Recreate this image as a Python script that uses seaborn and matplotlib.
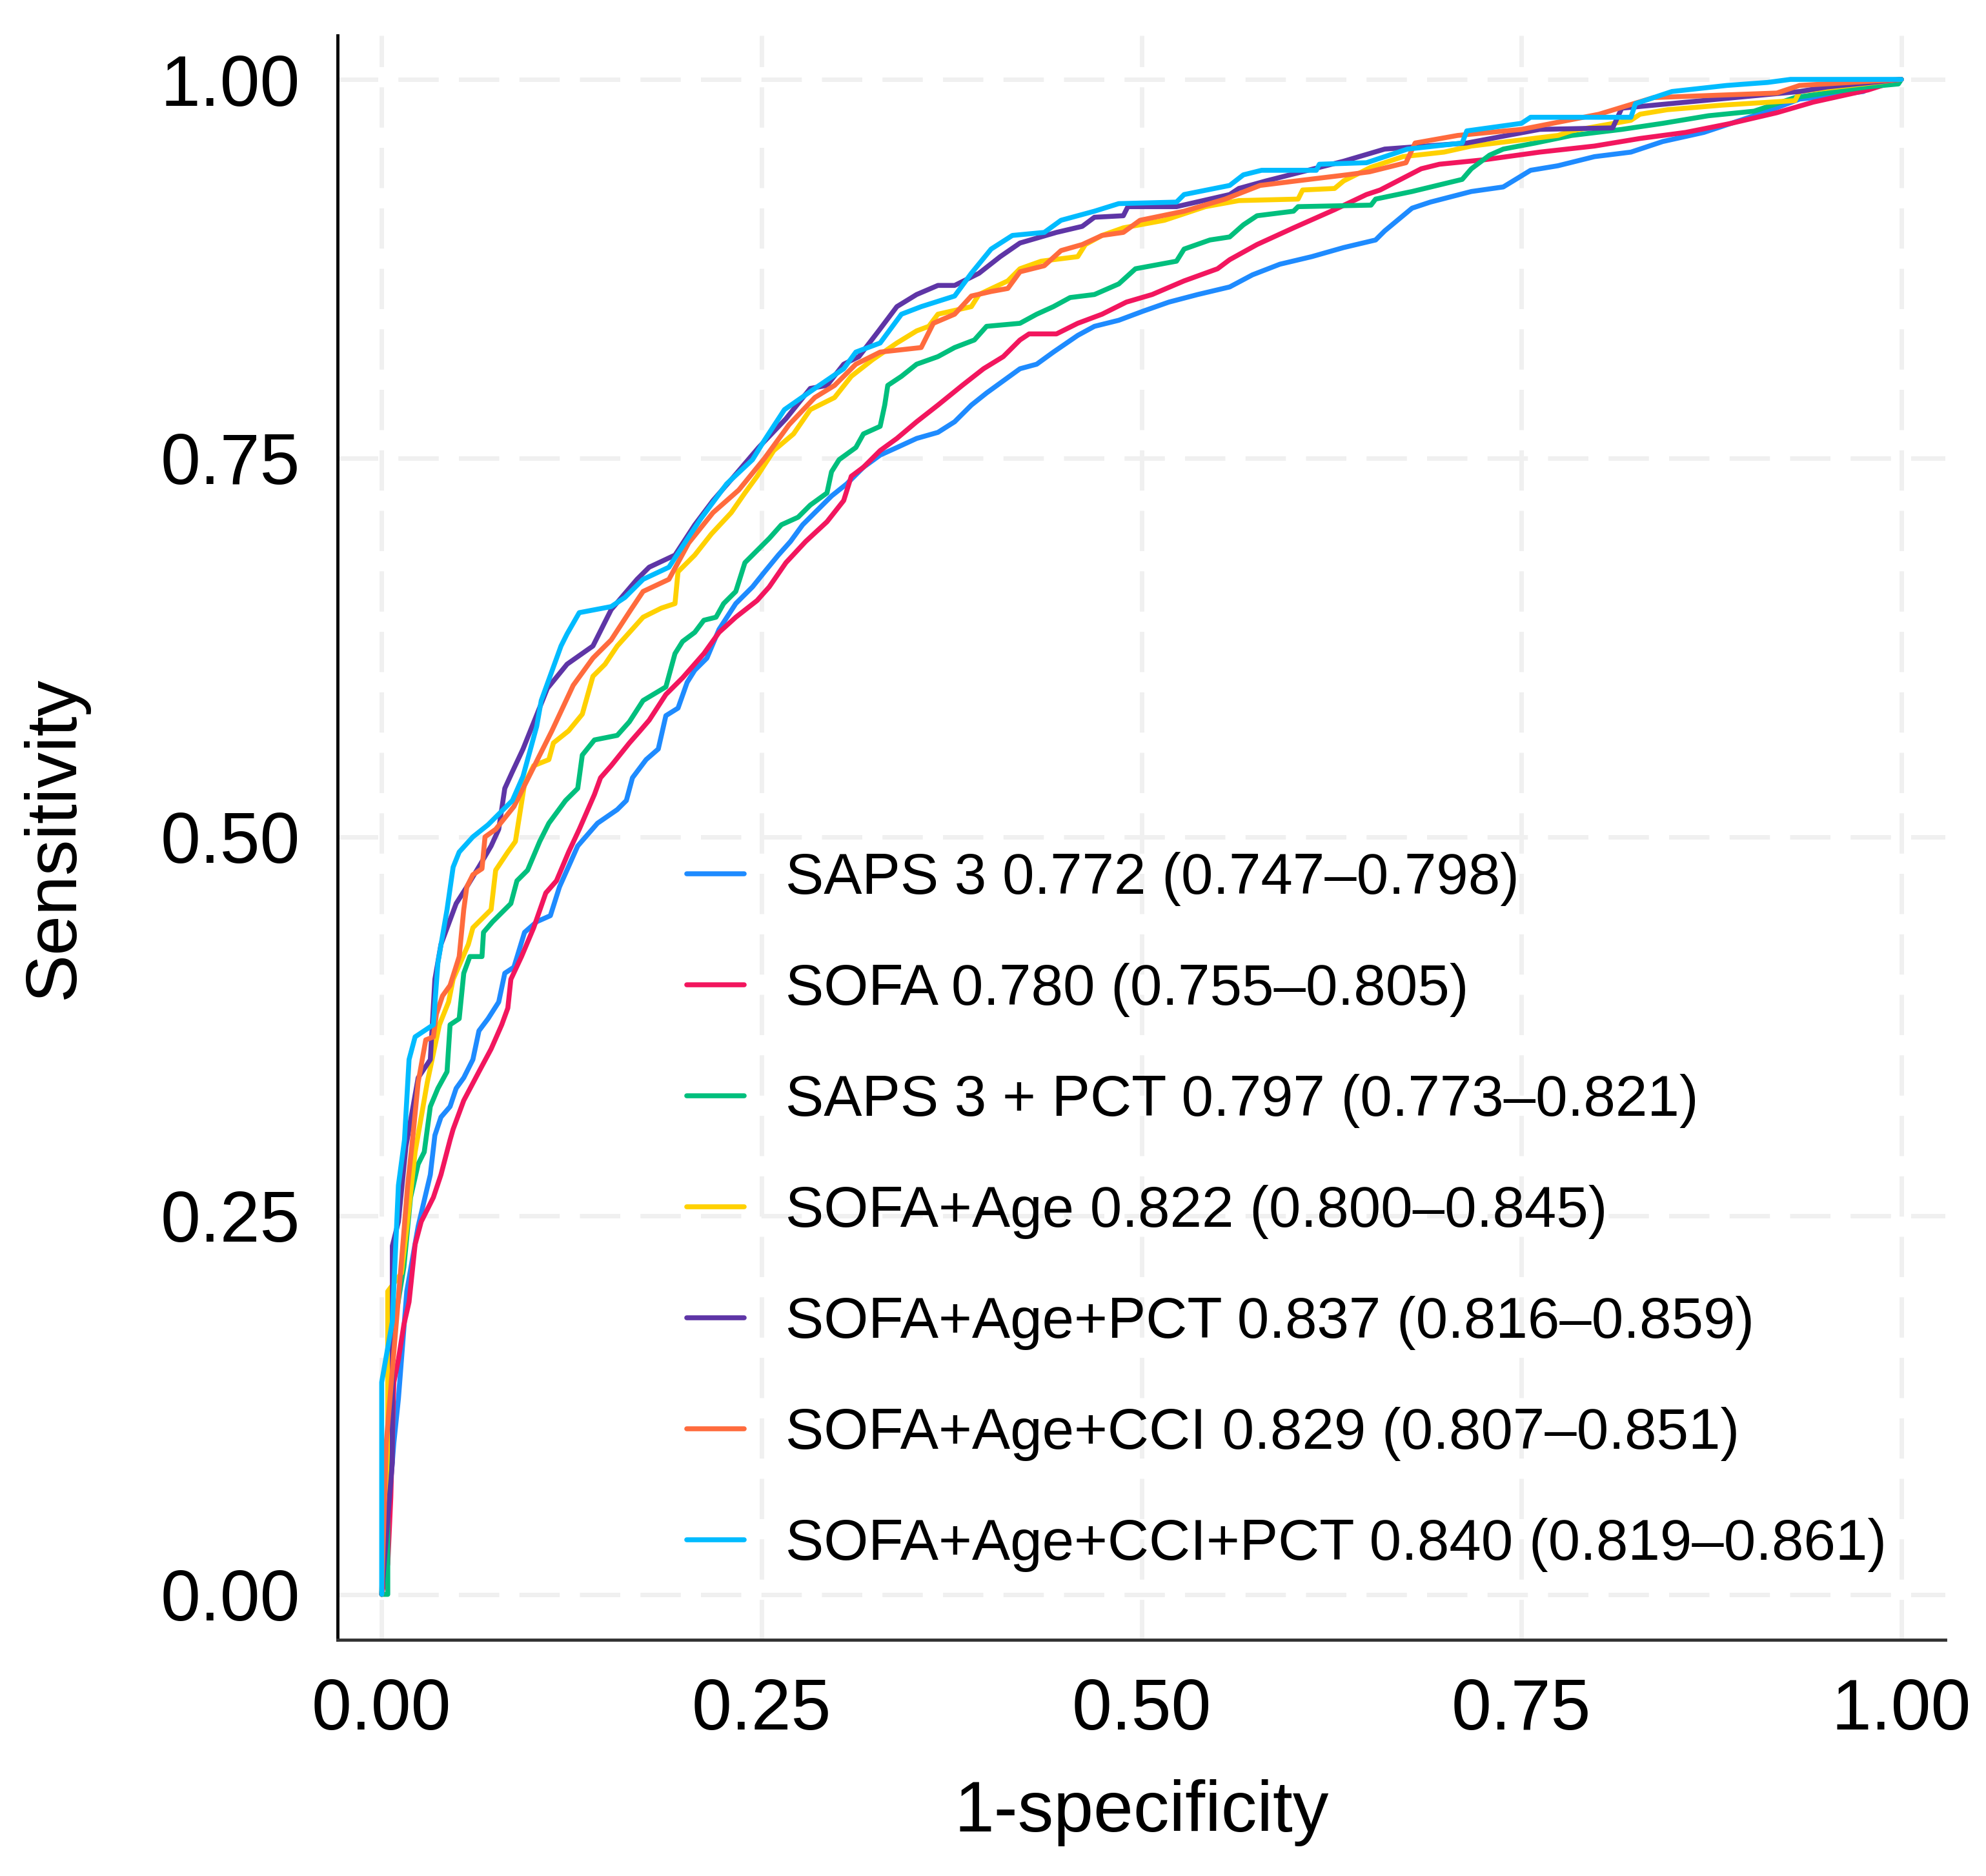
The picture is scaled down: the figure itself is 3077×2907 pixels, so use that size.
import pandas as pd
import matplotlib.pyplot as plt
import seaborn as sns

# ROC curves (1-specificity, sensitivity)
saps3_fpr = [0, 0.004, 0.008, 0.011, 0.0165, 0.024, 0.032, 0.035, 0.039, 0.045, 0.049, 0.054, 0.06, 0.064, 0.07, 0.077, 0.081, 0.087, 0.094, 0.102, 0.111, 0.117, 0.129, 0.142, 0.155, 0.161, 0.165, 0.174, 0.182, 0.187, 0.195, 0.201, 0.206, 0.214, 0.222, 0.233, 0.244, 0.252, 0.261, 0.269, 0.277, 0.285, 0.296, 0.306, 0.317, 0.328, 0.339, 0.352, 0.366, 0.377, 0.388, 0.398, 0.409, 0.42, 0.431, 0.442, 0.458, 0.469, 0.485, 0.501, 0.518, 0.537, 0.558, 0.573, 0.591, 0.612, 0.633, 0.654, 0.66, 0.678, 0.69, 0.717, 0.738, 0.756, 0.774, 0.798, 0.822, 0.843, 0.87, 0.894, 0.912, 0.933, 0.952, 0.975, 0.985, 1.0]
saps3_tpr = [0, 0.05, 0.1, 0.129, 0.2, 0.243, 0.277, 0.303, 0.315, 0.322, 0.334, 0.341, 0.353, 0.372, 0.38, 0.391, 0.41, 0.414, 0.437, 0.444, 0.448, 0.467, 0.494, 0.509, 0.518, 0.524, 0.539, 0.551, 0.558, 0.58, 0.585, 0.602, 0.61, 0.618, 0.637, 0.654, 0.665, 0.675, 0.686, 0.695, 0.706, 0.714, 0.725, 0.733, 0.744, 0.752, 0.757, 0.763, 0.767, 0.774, 0.785, 0.793, 0.801, 0.809, 0.812, 0.82, 0.831, 0.837, 0.841, 0.847, 0.853, 0.858, 0.863, 0.871, 0.878, 0.883, 0.889, 0.894, 0.9, 0.915, 0.919, 0.926, 0.929, 0.94, 0.943, 0.949, 0.952, 0.959, 0.965, 0.973, 0.979, 0.987, 0.989, 0.992, 0.998, 1.0]

sofa_fpr = [0, 0.004, 0.006, 0.008, 0.011, 0.0146, 0.018, 0.022, 0.026, 0.034, 0.039, 0.045, 0.047, 0.054, 0.064, 0.072, 0.079, 0.083, 0.085, 0.092, 0.1, 0.108, 0.115, 0.123, 0.13, 0.14, 0.144, 0.151, 0.163, 0.17, 0.176, 0.187, 0.198, 0.212, 0.222, 0.233, 0.247, 0.255, 0.266, 0.279, 0.293, 0.304, 0.309, 0.317, 0.328, 0.339, 0.352, 0.366, 0.382, 0.396, 0.409, 0.42, 0.426, 0.444, 0.458, 0.474, 0.49, 0.507, 0.528, 0.55, 0.558, 0.576, 0.6, 0.627, 0.648, 0.657, 0.684, 0.696, 0.726, 0.762, 0.798, 0.828, 0.858, 0.888, 0.918, 0.942, 0.96, 0.978, 1.0]
sofa_tpr = [0, 0.02, 0.064, 0.14, 0.155, 0.178, 0.193, 0.231, 0.246, 0.262, 0.277, 0.3, 0.307, 0.326, 0.345, 0.36, 0.376, 0.387, 0.406, 0.421, 0.44, 0.463, 0.471, 0.49, 0.505, 0.528, 0.539, 0.547, 0.562, 0.57, 0.577, 0.594, 0.605, 0.621, 0.635, 0.645, 0.656, 0.665, 0.681, 0.695, 0.708, 0.722, 0.738, 0.744, 0.755, 0.763, 0.774, 0.785, 0.798, 0.809, 0.817, 0.828, 0.832, 0.832, 0.839, 0.845, 0.853, 0.858, 0.867, 0.875, 0.881, 0.891, 0.902, 0.914, 0.924, 0.927, 0.941, 0.944, 0.947, 0.952, 0.956, 0.961, 0.965, 0.971, 0.978, 0.985, 0.989, 0.993, 1.0]

saps3_pct_fpr = [0, 0.004, 0.004, 0.007, 0.0146, 0.019, 0.024, 0.028, 0.032, 0.037, 0.043, 0.045, 0.051, 0.054, 0.058, 0.066, 0.067, 0.073, 0.085, 0.089, 0.096, 0.104, 0.11, 0.121, 0.129, 0.132, 0.14, 0.155, 0.163, 0.172, 0.187, 0.193, 0.198, 0.206, 0.212, 0.22, 0.225, 0.233, 0.239, 0.247, 0.255, 0.263, 0.274, 0.282, 0.293, 0.296, 0.301, 0.312, 0.317, 0.328, 0.331, 0.333, 0.342, 0.352, 0.366, 0.377, 0.39, 0.398, 0.42, 0.431, 0.442, 0.453, 0.469, 0.485, 0.496, 0.523, 0.528, 0.545, 0.558, 0.567, 0.576, 0.6, 0.603, 0.651, 0.654, 0.678, 0.711, 0.717, 0.729, 0.738, 0.759, 0.783, 0.816, 0.843, 0.873, 0.903, 0.93, 0.977, 0.998, 1.0]
saps3_pct_tpr = [0, 0.0, 0.163, 0.17, 0.216, 0.262, 0.284, 0.292, 0.322, 0.334, 0.345, 0.376, 0.38, 0.41, 0.421, 0.421, 0.437, 0.444, 0.456, 0.471, 0.478, 0.497, 0.509, 0.524, 0.532, 0.554, 0.564, 0.567, 0.576, 0.59, 0.599, 0.621, 0.629, 0.635, 0.643, 0.645, 0.654, 0.662, 0.681, 0.689, 0.697, 0.706, 0.711, 0.719, 0.727, 0.741, 0.749, 0.757, 0.766, 0.771, 0.785, 0.798, 0.804, 0.812, 0.817, 0.823, 0.828, 0.837, 0.839, 0.845, 0.85, 0.856, 0.858, 0.865, 0.875, 0.88, 0.888, 0.894, 0.896, 0.904, 0.91, 0.913, 0.916, 0.917, 0.921, 0.926, 0.934, 0.941, 0.95, 0.954, 0.958, 0.963, 0.967, 0.971, 0.976, 0.979, 0.988, 0.995, 0.997, 1.0]

sofa_age_fpr = [0, 0.004, 0.004, 0.013, 0.017, 0.022, 0.026, 0.03, 0.034, 0.038, 0.044, 0.047, 0.057, 0.06, 0.072, 0.075, 0.083, 0.088, 0.091, 0.094, 0.1, 0.11, 0.113, 0.123, 0.132, 0.139, 0.147, 0.155, 0.172, 0.184, 0.193, 0.195, 0.206, 0.217, 0.23, 0.239, 0.247, 0.258, 0.271, 0.282, 0.298, 0.309, 0.323, 0.339, 0.352, 0.36, 0.366, 0.388, 0.393, 0.412, 0.42, 0.434, 0.458, 0.463, 0.474, 0.488, 0.515, 0.542, 0.564, 0.603, 0.606, 0.627, 0.633, 0.651, 0.672, 0.699, 0.717, 0.774, 0.783, 0.822, 0.828, 0.846, 0.882, 0.93, 0.933, 0.975, 1.0]
sofa_age_tpr = [0, 0.1, 0.2, 0.212, 0.246, 0.292, 0.315, 0.338, 0.357, 0.376, 0.391, 0.406, 0.429, 0.44, 0.452, 0.478, 0.49, 0.497, 0.516, 0.535, 0.547, 0.551, 0.562, 0.57, 0.581, 0.606, 0.614, 0.626, 0.645, 0.651, 0.654, 0.675, 0.686, 0.7, 0.714, 0.727, 0.738, 0.755, 0.766, 0.782, 0.79, 0.804, 0.815, 0.826, 0.834, 0.837, 0.845, 0.85, 0.858, 0.867, 0.875, 0.88, 0.883, 0.891, 0.897, 0.902, 0.907, 0.916, 0.92, 0.921, 0.927, 0.928, 0.933, 0.942, 0.949, 0.952, 0.956, 0.963, 0.966, 0.973, 0.977, 0.98, 0.983, 0.986, 0.992, 0.997, 1.0]

sofa_age_pct_fpr = [0, 0.004, 0.007, 0.007, 0.011, 0.016, 0.024, 0.032, 0.035, 0.039, 0.049, 0.056, 0.065, 0.072, 0.077, 0.081, 0.086, 0.093, 0.099, 0.109, 0.122, 0.139, 0.145, 0.151, 0.168, 0.176, 0.193, 0.206, 0.218, 0.231, 0.248, 0.266, 0.282, 0.293, 0.304, 0.314, 0.327, 0.339, 0.352, 0.366, 0.377, 0.393, 0.407, 0.42, 0.444, 0.461, 0.469, 0.488, 0.491, 0.523, 0.558, 0.564, 0.582, 0.633, 0.66, 0.714, 0.762, 0.81, 0.816, 0.933, 0.951, 1.0]
sofa_age_pct_tpr = [0, 0.05, 0.087, 0.23, 0.246, 0.296, 0.341, 0.353, 0.406, 0.429, 0.456, 0.467, 0.482, 0.494, 0.505, 0.532, 0.543, 0.558, 0.573, 0.598, 0.614, 0.626, 0.638, 0.65, 0.67, 0.678, 0.686, 0.706, 0.722, 0.737, 0.757, 0.776, 0.796, 0.798, 0.812, 0.817, 0.834, 0.85, 0.858, 0.864, 0.864, 0.872, 0.883, 0.892, 0.899, 0.903, 0.909, 0.91, 0.916, 0.916, 0.924, 0.928, 0.933, 0.946, 0.954, 0.958, 0.967, 0.968, 0.981, 0.992, 0.995, 1.0]

sofa_age_cci_fpr = [0, 0.003, 0.0146, 0.017, 0.021, 0.024, 0.029, 0.034, 0.036, 0.04, 0.045, 0.051, 0.054, 0.056, 0.06, 0.066, 0.068, 0.075, 0.087, 0.102, 0.112, 0.126, 0.139, 0.151, 0.164, 0.172, 0.189, 0.202, 0.218, 0.235, 0.252, 0.268, 0.285, 0.298, 0.312, 0.328, 0.355, 0.363, 0.377, 0.388, 0.401, 0.412, 0.42, 0.436, 0.447, 0.461, 0.474, 0.488, 0.499, 0.528, 0.555, 0.578, 0.602, 0.635, 0.65, 0.674, 0.68, 0.708, 0.75, 0.801, 0.837, 0.864, 0.918, 0.933, 1.0]
sofa_age_cci_tpr = [0, 0.1, 0.239, 0.269, 0.307, 0.338, 0.366, 0.368, 0.383, 0.395, 0.402, 0.421, 0.452, 0.467, 0.475, 0.479, 0.5, 0.505, 0.52, 0.55, 0.57, 0.6, 0.618, 0.63, 0.65, 0.662, 0.67, 0.694, 0.714, 0.729, 0.75, 0.772, 0.79, 0.798, 0.812, 0.82, 0.823, 0.839, 0.845, 0.857, 0.86, 0.862, 0.873, 0.877, 0.887, 0.891, 0.897, 0.899, 0.907, 0.913, 0.921, 0.93, 0.933, 0.937, 0.939, 0.945, 0.958, 0.963, 0.967, 0.977, 0.988, 0.989, 0.991, 0.996, 1.0]

sofa_age_cci_pct_fpr = [0, 0, 0.007, 0.011, 0.015, 0.018, 0.022, 0.034, 0.037, 0.043, 0.047, 0.051, 0.06, 0.07, 0.086, 0.093, 0.102, 0.105, 0.118, 0.122, 0.13, 0.151, 0.16, 0.172, 0.189, 0.202, 0.21, 0.227, 0.244, 0.252, 0.265, 0.285, 0.304, 0.312, 0.328, 0.342, 0.355, 0.377, 0.388, 0.401, 0.415, 0.436, 0.447, 0.469, 0.485, 0.523, 0.528, 0.558, 0.567, 0.579, 0.615, 0.617, 0.648, 0.675, 0.711, 0.714, 0.75, 0.756, 0.822, 0.825, 0.849, 0.885, 0.912, 0.927, 1.0]
sofa_age_cci_pct_tpr = [0, 0.14, 0.18, 0.27, 0.3, 0.353, 0.368, 0.376, 0.417, 0.452, 0.48, 0.49, 0.5, 0.508, 0.524, 0.54, 0.573, 0.59, 0.626, 0.634, 0.648, 0.652, 0.658, 0.67, 0.678, 0.698, 0.71, 0.733, 0.749, 0.762, 0.782, 0.796, 0.809, 0.82, 0.826, 0.845, 0.85, 0.857, 0.872, 0.888, 0.897, 0.899, 0.907, 0.913, 0.918, 0.919, 0.924, 0.93, 0.937, 0.94, 0.94, 0.944, 0.945, 0.954, 0.958, 0.966, 0.971, 0.975, 0.975, 0.984, 0.992, 0.996, 0.998, 1.0, 1.0]

labels = [
    "SAPS 3 0.772 (0.747\u20130.798)",
    "SOFA 0.780 (0.755\u20130.805)",
    "SAPS 3 + PCT 0.797 (0.773\u20130.821)",
    "SOFA+Age 0.822 (0.800\u20130.845)",
    "SOFA+Age+PCT 0.837 (0.816\u20130.859)",
    "SOFA+Age+CCI 0.829 (0.807\u20130.851)",
    "SOFA+Age+CCI+PCT 0.840 (0.819\u20130.861)",
]
colors = ["#1E8BFF", "#F2165E", "#00BF7D", "#FFD100", "#5E35A6", "#FF6B3D", "#00BBFF"]

curves = [
    (saps3_fpr, saps3_tpr),
    (sofa_fpr, sofa_tpr),
    (saps3_pct_fpr, saps3_pct_tpr),
    (sofa_age_fpr, sofa_age_tpr),
    (sofa_age_pct_fpr, sofa_age_pct_tpr),
    (sofa_age_cci_fpr, sofa_age_cci_tpr),
    (sofa_age_cci_pct_fpr, sofa_age_cci_pct_tpr),
]

sns.set_style("white")
plt.rcParams["font.family"] = ["Liberation Sans", "DejaVu Sans"]
plt.rcParams["text.color"] = "black"
plt.rcParams["axes.labelcolor"] = "black"
plt.rcParams["xtick.color"] = "black"
plt.rcParams["ytick.color"] = "black"

fig = plt.figure(figsize=(30.77, 29.07), dpi=100)
ax = fig.add_axes([0.170, 0.1259, 0.8096, 0.8552])

for (fpr, tpr), lab, col in zip(curves, labels, colors):
    df = pd.DataFrame({"fpr": fpr, "tpr": tpr})
    sns.lineplot(data=df, x="fpr", y="tpr", color=col, label=lab, lw=5.5,
                 estimator=None, sort=False, ax=ax)

ax.set_xlim(-0.029, 1.029)
ax.set_ylim(-0.030, 1.029)
ticks = [0, 0.25, 0.5, 0.75, 1.0]
ax.set_xticks(ticks)
ax.set_yticks(ticks)
ax.set_xticklabels(["%.2f" % t for t in ticks])
ax.set_yticklabels(["%.2f" % t for t in ticks])

ax.grid(True, color="#F0F0F0", lw=5, linestyle=(0, (9, 4.5)))
ax.set_axisbelow(True)

sns.despine(ax=ax)
ax.spines["left"].set_color("black")
ax.spines["left"].set_linewidth(3.5)
ax.spines["bottom"].set_color("#333333")
ax.spines["bottom"].set_linewidth(3.5)
ax.tick_params(axis="both", length=30, width=3, color="#333333",
               labelsize=80, pad=12, direction="out")

ax.set_xlabel("1-specificity", fontsize=80)
ax.set_ylabel("Sensitivity", fontsize=80)
ax.xaxis.set_label_coords(0.5, -0.087)
ax.yaxis.set_label_coords(-0.155, 0.5)

ax.legend(loc="upper left", bbox_to_anchor=(0.217, 0.491), frameon=False,
          fontsize=64, handlelength=1.0, handletextpad=0.73,
          labelspacing=0.99, borderpad=0, borderaxespad=0)

fig.savefig("out.png", dpi=100)
